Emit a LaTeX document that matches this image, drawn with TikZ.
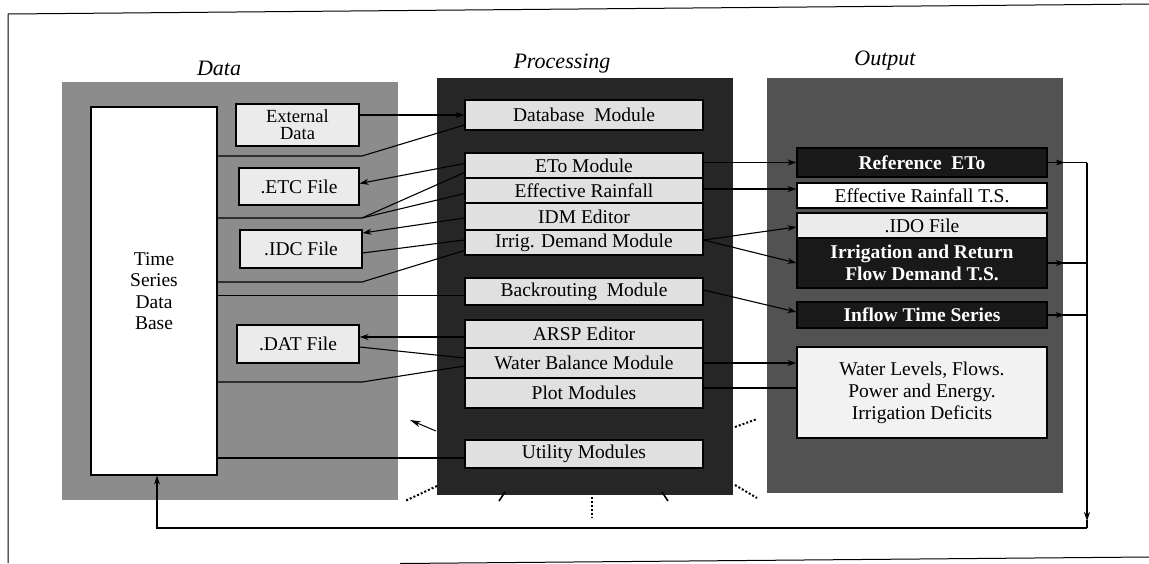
\documentclass[tikz,border=0pt]{standalone}
\usepackage{fontspec}
\setmainfont{Liberation Serif}
\usetikzlibrary{arrows.meta,calc}
\begin{document}
\begin{tikzpicture}[x=1pt,y=-1pt,
  every node/.style={font=\fontsize{19.5}{21}\selectfont},
  panel/.style={draw=none, inner sep=0},
  bx/.style={draw, line width=1.1pt, inner sep=0, align=center},
  pbox/.style={bx, fill=black!12, minimum width=238pt},
  obox/.style={bx, minimum width=250pt},
  dbox/.style={bx, fill=black!8},
  wbold/.style={text=white, font=\fontsize{19.5}{21.5}\selectfont\bfseries},
  conn/.style={line width=1.1pt},
  arr/.style={conn, -{Stealth[length=9pt,width=6pt]}},
  ttl/.style={font=\fontsize{22}{24}\selectfont\itshape},
  ray/.style={line width=2pt, dotted},
]
\useasboundingbox (0,0) rectangle (1149,563);
\fill[white] (0,0) rectangle (1149,563);

% frame
\draw[line width=1pt] (1149,4) -- (8,14) -- (8,563);
\draw[line width=1pt] (400,563.5) -- (1149,557);

% panels
\node[panel, fill=black!45, minimum width=336pt, minimum height=418pt] (datap) at (230,291) {};
\node[panel, fill=black!85, minimum width=296pt, minimum height=417pt] (procp) at (585,286.5) {};
\node[panel, fill=black!68, minimum width=296pt, minimum height=415pt] (outp) at (915,285.5) {};

% titles
\node[ttl] (tdata) at (219,68) {Data};
\node[ttl] (tproc) at (562,64) {Processing};
\node[ttl] (tout) at (885,61) {Output};

% data boxes
\node[bx, fill=white, minimum width=126pt, minimum height=368pt, font=\fontsize{19.5}{21.5}\selectfont] (tsdb) at (154,291) {Time\\Series\\Data\\Base};
\node[dbox, minimum width=123pt, minimum height=42pt, font=\fontsize{18.5}{17}\selectfont] (ext) at (297.5,125) {External\\Data};
\node[dbox, minimum width=120pt, minimum height=37pt] (etc) at (299,186.5) {.ETC File};
\node[dbox, minimum width=122pt, minimum height=38pt] (idc) at (301,249) {.IDC File};
\node[dbox, minimum width=122pt, minimum height=38pt] (dat) at (298,344) {.DAT File};

% processing boxes
\node[pbox, minimum height=30pt] (dbm) at (584,115) {Database\ \ Module};
\node[pbox, minimum height=25pt] (eto) at (584,165.5) {ETo Module};
\node[pbox, minimum height=25pt] (effr) at (584,190.5) {Effective Rainfall};
\node[pbox, minimum height=27pt] (idm) at (584,216.5) {IDM Editor};
\node[pbox, minimum height=25pt] (irr) at (584,242.5) {Irrig. Demand Module};
\node[pbox, minimum height=27pt] (back) at (584,291.5) {Backrouting\ \ Module};
\node[pbox, minimum height=28pt] (arsp) at (584,334) {ARSP Editor};
\node[pbox, minimum height=30pt] (wb) at (584,363) {Water Balance Module};
\node[pbox, minimum height=30pt] (plot) at (584,393) {Plot Modules};
\node[pbox, minimum height=28pt] (util) at (584,454) {Utility Modules};

% output boxes
\node[obox, fill=black!90, minimum height=29pt, wbold] (reto) at (922,162.5) {Reference\ \ ETo};
\node[obox, fill=white, minimum height=25pt] (erts) at (922,195.5) {Effective Rainfall T.S.};
\node[obox, fill=black!8, minimum height=25pt] (ido) at (922,225.5) {.IDO File};
\node[obox, fill=black!90, minimum height=50pt, wbold] (irts) at (922,263) {Irrigation and Return\\Flow Demand T.S.};
\node[obox, fill=black!90, minimum height=26pt, wbold] (infl) at (922,315) {Inflow Time Series};
\node[obox, fill=black!5, minimum height=91pt, font=\fontsize{19.5}{22}\selectfont] (wl) at (922,392.5) {Water Levels, Flows.\\Power and Energy.\\Irrigation Deficits};

% bend points
\coordinate (k1) at (362,156);
\coordinate (k2) at (362,218);
\coordinate (k3) at (362,282);
\coordinate (k4) at (362,382);
\coordinate (bw) at ($(back.west)+(0,4)$);
\coordinate (uw) at ($(util.west)+(0,4)$);
\coordinate (pe) at ($(plot.east)+(0,-5)$);

% data <-> processing
\draw[arr] (ext.east |- dbm.west) -- (dbm.west);
\draw[conn] (tsdb.east |- k1) -- (k1) -- ($(dbm.west)+(0,10)$);
\draw[arr] ($(eto.west)+(0,-2)$) -- ($(etc.east)+(0,-3)$);
\draw[conn] (tsdb.east |- k2) -- (k2) -- ($(eto.west)+(0,7)$);
\draw[conn] (k2) -- ($(effr.west)+(0,3)$);
\draw[arr] ($(idm.west)+(0,1.5)$) -- ($(idc.east)+(0,-16)$);
\draw[conn] ($(idc.east)+(0,4)$) -- ($(irr.west)+(0,-2.5)$);
\draw[conn] (tsdb.east |- k3) -- (k3) -- ($(irr.west)+(0,8)$);
\draw[conn] (tsdb.east |- bw) -- (bw);
\draw[arr] ($(arsp.west)+(0,3)$) -- ($(dat.east)+(0,-7)$);
\draw[conn] ($(dat.east)+(0,3)$) -- ($(wb.west)+(0,-5)$);
\draw[conn] (tsdb.east |- k4) -- (k4) -- ($(wb.west)+(0,3)$);
\draw[conn] (tsdb.east |- uw) -- (uw);

% processing -> output
\draw[arr] (eto.east |- reto.west) -- (reto.west);
\draw[arr] ($(effr.east)+(0,-1.5)$) -- ($(erts.west)+(0,-6.5)$);
\draw[arr] ($(irr.east)+(0,-2.5)$) -- ($(ido.west)+(0,1.5)$);
\draw[arr] ($(irr.east)+(0,-2.5)$) -- (irts.west);
\draw[arr] ($(back.east)+(0,-1.5)$) -- ($(infl.west)+(0,-3)$);
\draw[arr] (wb.east) -- (wl.west |- wb.east);
\draw[conn] (pe) -- (wl.west |- pe);

% output -> bus -> time series data base
\coordinate (bus1) at (1087,162.5);
\coordinate (busb) at (1087,528);
\coordinate (busl) at (157,528);
\draw[conn] (reto.east) -- (bus1);
\draw[conn] (irts.east) -- (irts.east -| bus1);
\draw[conn] (infl.east) -- (infl.east -| bus1);
\draw[arr] (reto.east) -- ++(17,0);
\draw[arr] (irts.east) -- ++(17,0);
\draw[arr] (infl.east) -- ++(17,0);
\draw[arr] (bus1) -- ($(busb)+(0,-7)$);
\draw[conn] ($(busb)+(0,-8)$) -- (busb);
\draw[arr] (busb) -- (busl) -- (busl |- tsdb.south);

% rays around processing
\draw[ray] (735,427) -- (757,419);
\draw[ray] (437,486) -- (405,501);
\draw[ray] (735,485) -- (757,498);
\draw[ray] (592,497) -- (592,518);
\draw[line width=1.6pt] (499,501) -- (505,492);
\draw[line width=1.6pt] (668,501) -- (662,492);
\draw[line width=1pt, -{Stealth[length=11pt,width=6pt]}] (436,431) -- (410,420);
\end{tikzpicture}
\end{document}
